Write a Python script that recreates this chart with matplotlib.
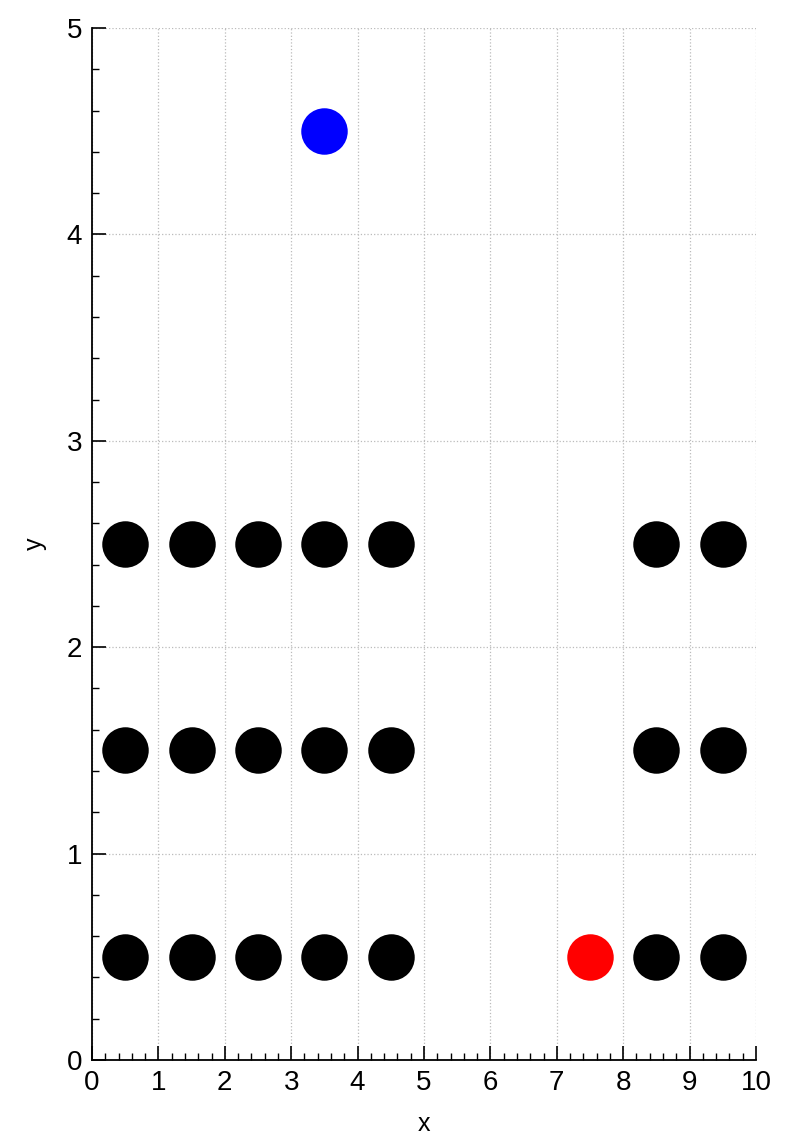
import matplotlib
matplotlib.use("Agg")
import matplotlib.pyplot as plt
from matplotlib.ticker import MultipleLocator

# black points (grid of obstacles)
black_x = [0.5, 1.5, 2.5, 3.5, 4.5, 8.5, 9.5,
           0.5, 1.5, 2.5, 3.5, 4.5, 8.5, 9.5,
           0.5, 1.5, 2.5, 3.5, 4.5, 8.5, 9.5]
black_y = [0.5, 0.5, 0.5, 0.5, 0.5, 0.5, 0.5,
           1.5, 1.5, 1.5, 1.5, 1.5, 1.5, 1.5,
           2.5, 2.5, 2.5, 2.5, 2.5, 2.5, 2.5]
red_x = [7.5]
red_y = [0.5]
blue_x = [3.5]
blue_y = [4.5]

plt.rcParams['font.family'] = ['Liberation Sans', 'DejaVu Sans']

fig = plt.figure(figsize=(7.86, 11.48), dpi=100)
ax = fig.add_axes([92/786, 88/1148, 664/786, 1032/1148])

s = 1120
ax.scatter(black_x, black_y, s=s, c='black', zorder=3, linewidths=0)
ax.scatter(red_x, red_y, s=s, c='red', zorder=3, linewidths=0)
ax.scatter(blue_x, blue_y, s=s, c='blue', zorder=3, linewidths=0)

ax.set_xlim(0, 10)
ax.set_ylim(0, 5)
ax.xaxis.set_major_locator(MultipleLocator(1))
ax.xaxis.set_minor_locator(MultipleLocator(0.2))
ax.yaxis.set_major_locator(MultipleLocator(1))
ax.yaxis.set_minor_locator(MultipleLocator(0.2))

ax.spines['top'].set_visible(False)
ax.spines['right'].set_visible(False)
ax.spines['left'].set_linewidth(1.3)
ax.spines['bottom'].set_linewidth(1.3)

ax.tick_params(which='major', direction='in', length=10, width=1.2, labelsize=20, pad=7)
ax.tick_params(which='minor', direction='in', length=5, width=1.0)

ax.grid(True, which='major', linestyle=':', color='#bbbbbb', linewidth=0.9)
ax.set_axisbelow(True)

ax.set_xlabel('x', fontsize=18, labelpad=12)
ax.set_ylabel('y', fontsize=18, labelpad=14)

fig.savefig('out.png', dpi=100)
